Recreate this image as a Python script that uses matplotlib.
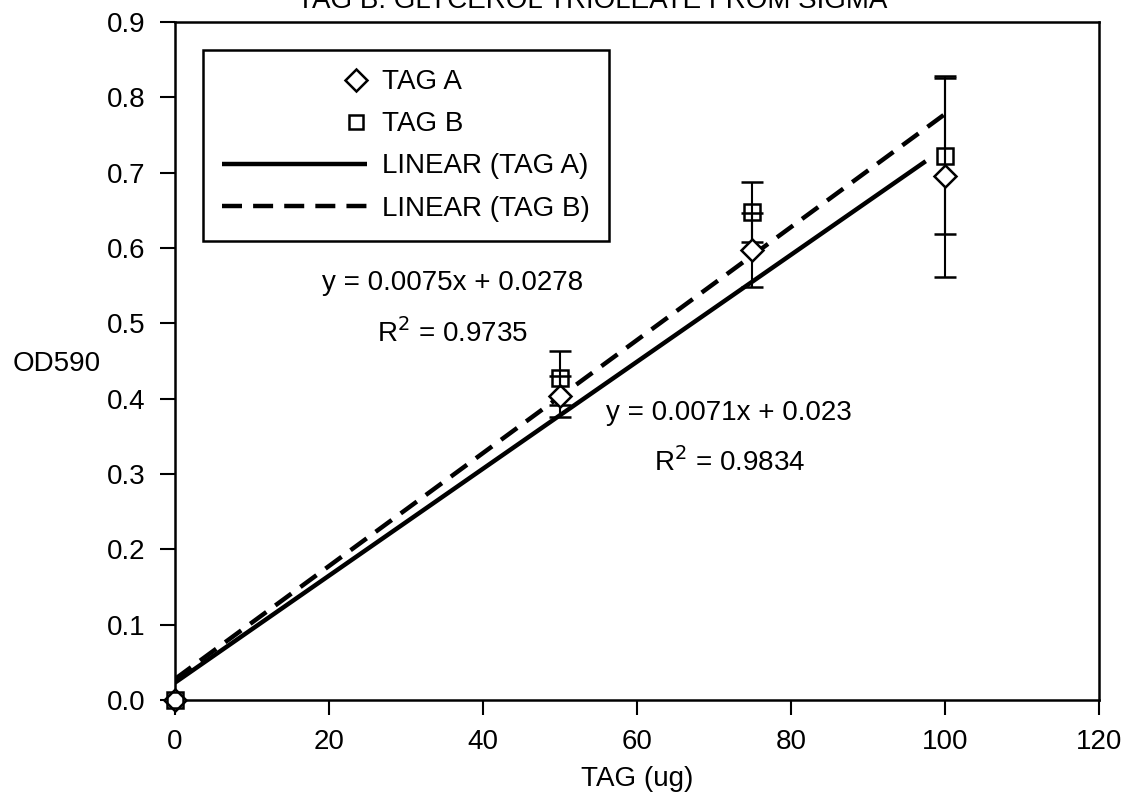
import numpy as np
import matplotlib
matplotlib.use('Agg')
import matplotlib.pyplot as plt
from matplotlib.lines import Line2D
from matplotlib.legend_handler import HandlerLine2D

# ── data ─────────────────────────────────────────────
tag_x = [0, 50, 75, 100]
tag_a = [0.0, 0.403, 0.597, 0.695]
tag_a_err = [0.0, 0.027, 0.049, 0.133]
tag_b = [0.0, 0.427, 0.648, 0.722]
tag_b_err = [0.0, 0.036, 0.040, 0.104]

fit_a = (0.0071, 0.023)     # slope, intercept
fit_b = (0.0075, 0.0278)
fit_a_range = (0, 97.5)
fit_b_range = (0, 100)
r2_a = 0.9834
r2_b = 0.9735

plt.rcParams['font.family'] = ['Liberation Sans', 'DejaVu Sans']
FS = 20
plt.rcParams['font.size'] = FS


class RightMarker(HandlerLine2D):
    """legend marker drawn near the right end of the handle (Excel style)"""
    def get_xdata(self, legend, xdescent, ydescent, width, height, fontsize):
        x = [-xdescent + width * 0.93]
        return x, x


fig = plt.figure(figsize=(11.23, 8.01), dpi=100)
ax = fig.add_axes([0.1558, 0.1261, 0.8228, 0.8464])

mk = dict(ms=11, mfc='white', mec='black', mew=1.8)
ax.errorbar(tag_x, tag_a, yerr=tag_a_err, fmt='D', ecolor='black',
            elinewidth=1.5, capsize=8, capthick=1.5, zorder=3, clip_on=False, **mk)
ax.errorbar(tag_x, tag_b, yerr=tag_b_err, fmt='s', ecolor='black',
            elinewidth=1.5, capsize=8, capthick=1.5, zorder=3, clip_on=False,
            ms=11, mfc='none', mec='black', mew=1.8)

xa = np.array(fit_a_range, dtype=float)
xb = np.array(fit_b_range, dtype=float)
la, = ax.plot(xa, fit_a[0] * xa + fit_a[1], color='black', lw=3.2,
              solid_capstyle='butt')
lb, = ax.plot(xb, fit_b[0] * xb + fit_b[1], color='black', lw=3.2,
              dashes=(4.5, 2.5))

ax.set_xlim(0, 120)
ax.set_ylim(0, 0.9)
ax.set_xticks(np.arange(0, 121, 20))
ax.set_yticks(np.arange(0, 0.91, 0.1))
ax.yaxis.set_major_formatter(matplotlib.ticker.FormatStrFormatter('%.1f'))
ax.tick_params(direction='out', length=11, width=1.5, pad=10, labelsize=FS)
for sp in ax.spines.values():
    sp.set_linewidth(1.8)

ax.set_xlabel('TAG (ug)', fontsize=FS, labelpad=8)
ax.set_ylabel('OD590', fontsize=FS, rotation=0, ha='left', va='center')
ax.yaxis.set_label_coords(-0.176, 0.495)

ax.text(36, 0.553, 'y = %.4fx + %.4f' % fit_b, ha='center', va='center', fontsize=FS)
ax.text(36, 0.487, r'R$^{2}$ = %.4f' % r2_b, ha='center', va='center', fontsize=FS)
ax.text(72, 0.381, 'y = %.4fx + %.3f' % fit_a, ha='center', va='center', fontsize=FS)
ax.text(72, 0.316, r'R$^{2}$ = %.4f' % r2_a, ha='center', va='center', fontsize=FS)

# legend proxies
h_a = Line2D([], [], marker='D', ls='none', **mk)
h_b = Line2D([], [], marker='s', ls='none', ms=10, mfc='white', mec='black', mew=1.8)
leg = ax.legend([h_a, h_b, la, lb],
                ['TAG A', 'TAG B', 'LINEAR (TAG A)', 'LINEAR (TAG B)'],
                loc='upper left', bbox_to_anchor=(0.03, 0.959),
                fontsize=FS, handlelength=5.2, handletextpad=0.55,
                labelspacing=0.58, borderpad=0.7, borderaxespad=0,
                frameon=True, fancybox=False, edgecolor='black', framealpha=1,
                handler_map={h_a: RightMarker(numpoints=1),
                             h_b: RightMarker(numpoints=1)})
leg.get_frame().set_linewidth(1.8)

fig.text(0.527, 1 - 8 / 801, 'TAG B: GLYCEROL TRIOLEATE FROM SIGMA',
         ha='center', va='baseline', fontsize=FS)

fig.savefig('out.png', dpi=100)
